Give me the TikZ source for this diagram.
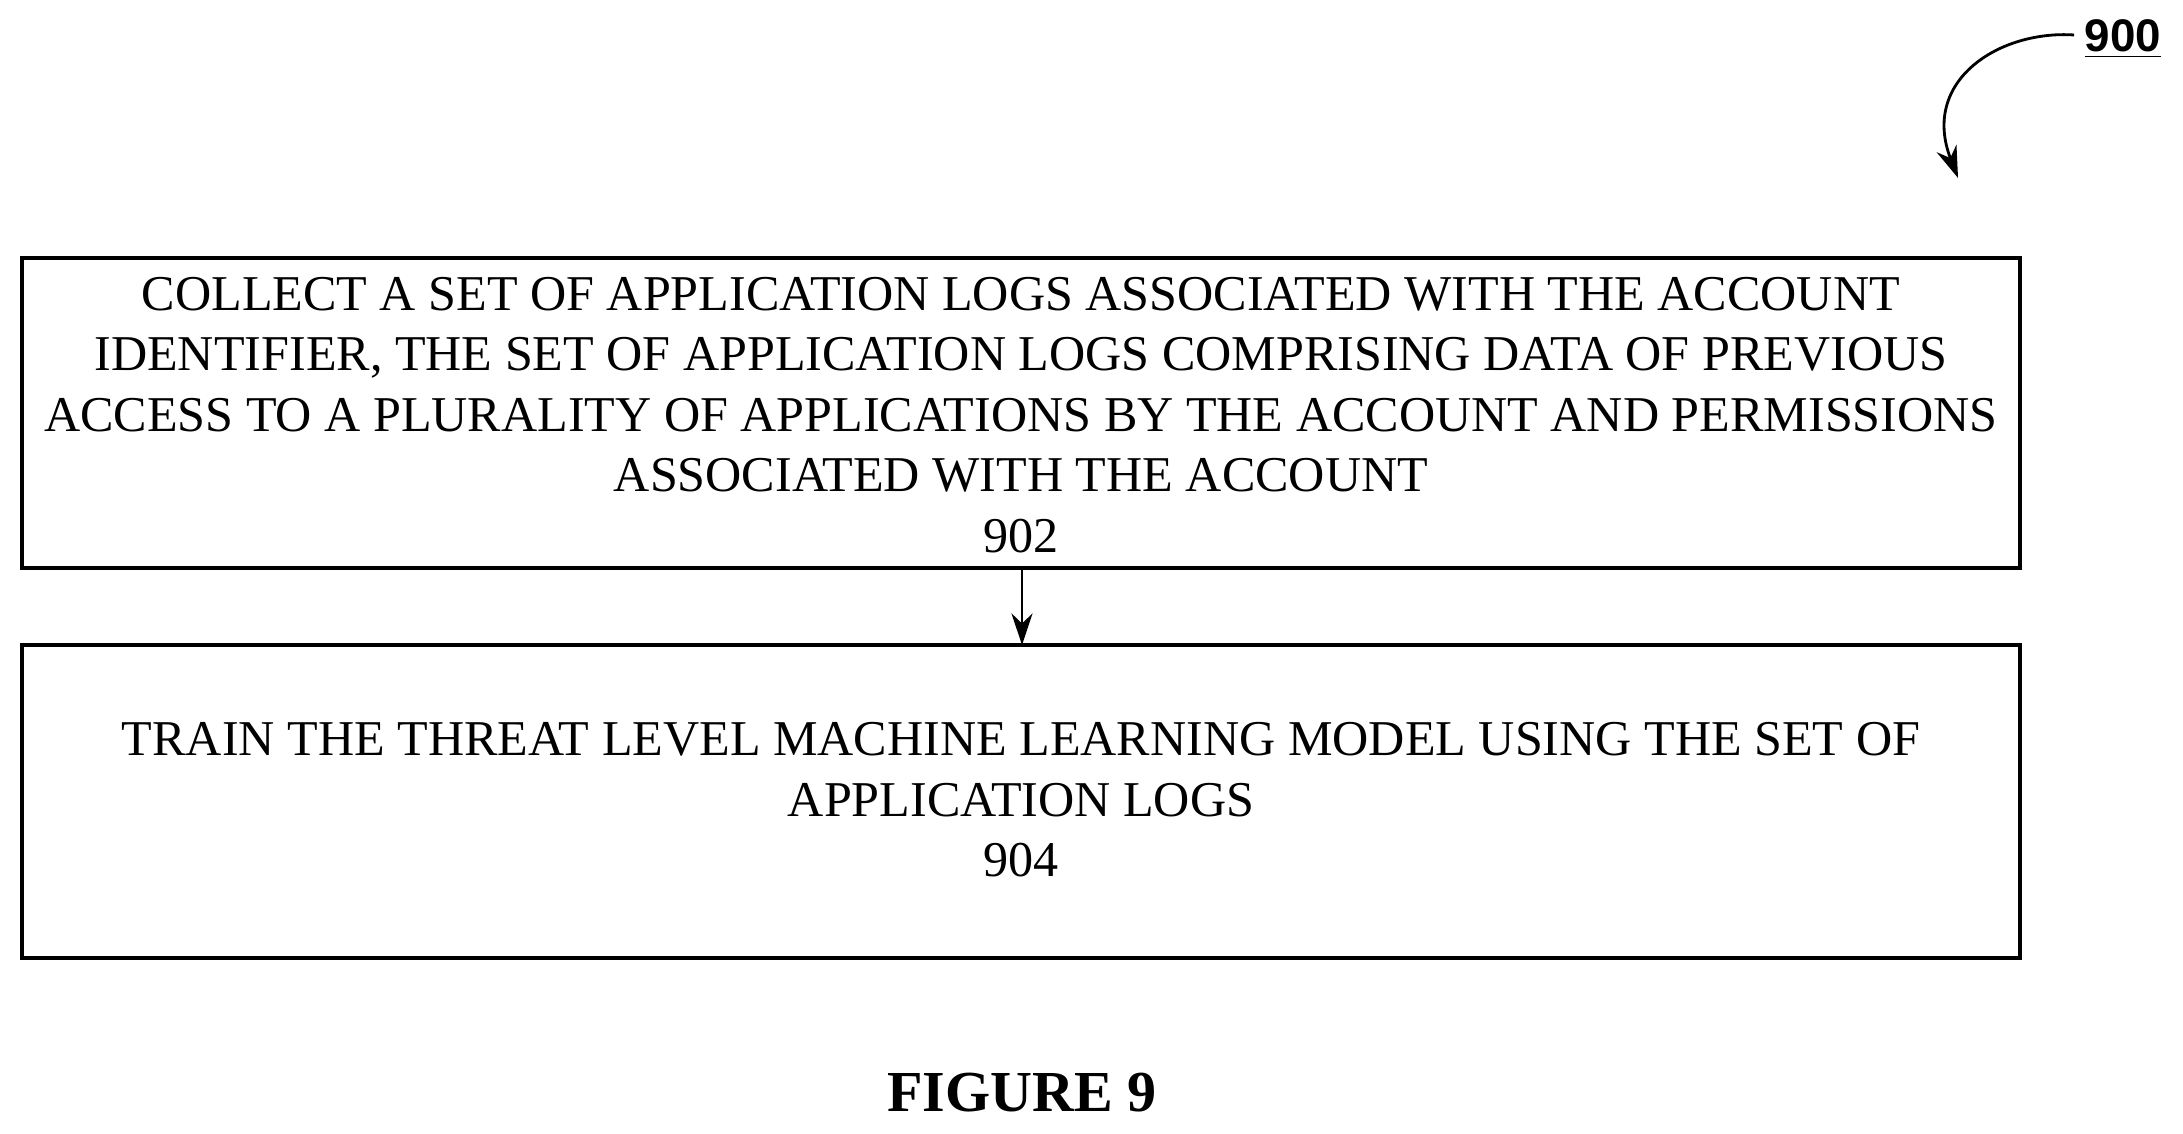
\documentclass[tikz,border=0pt]{standalone}
\usepackage{fontspec}
\setmainfont{Liberation Serif}
\setsansfont{Liberation Sans}
\usetikzlibrary{arrows.meta}
\begin{document}
\begin{tikzpicture}[x=0.01cm,y=-0.01cm,
  txt/.style={align=center,font=\fontsize{14.25pt}{17.2pt}\selectfont},
  arr/.style={-{Stealth[length=9pt,width=6pt]},line width=0.8pt}]
\useasboundingbox (0,0) rectangle (2183,1134);
\draw[line width=0.9pt] (22,258) rectangle (2020,568);
\draw[line width=0.9pt] (22,645) rectangle (2020,958);
\coordinate (b1) at (1022,568);
\coordinate (b2) at (1022,645);
\node[txt] (t1) at (1021,415) {COLLECT A SET OF APPLICATION LOGS ASSOCIATED WITH THE ACCOUNT\\IDENTIFIER, THE SET OF APPLICATION LOGS COMPRISING DATA OF PREVIOUS\\ACCESS TO A PLURALITY OF APPLICATIONS BY THE ACCOUNT AND PERMISSIONS\\ASSOCIATED WITH THE ACCOUNT\\902};
\node[txt] (t2) at (1021,800) {TRAIN THE THREAT LEVEL MACHINE LEARNING MODEL USING THE SET OF\\APPLICATION LOGS\\904};
\draw[arr] (b1) -- (b2);
\node[font=\fontsize{16.5pt}{19pt}\selectfont\bfseries] (fig) at (1022,1093) {FIGURE 9};
\node[font=\sffamily\bfseries\fontsize{13pt}{15pt}\selectfont] (n900) at (2123,39) {\underline{900}};
\coordinate (c1) at (2074,35);
\coordinate (c2) at (1958,178);
\draw[arr] (c1) .. controls (2000,30) and (1920,80) .. (c2);
\end{tikzpicture}
\end{document}
